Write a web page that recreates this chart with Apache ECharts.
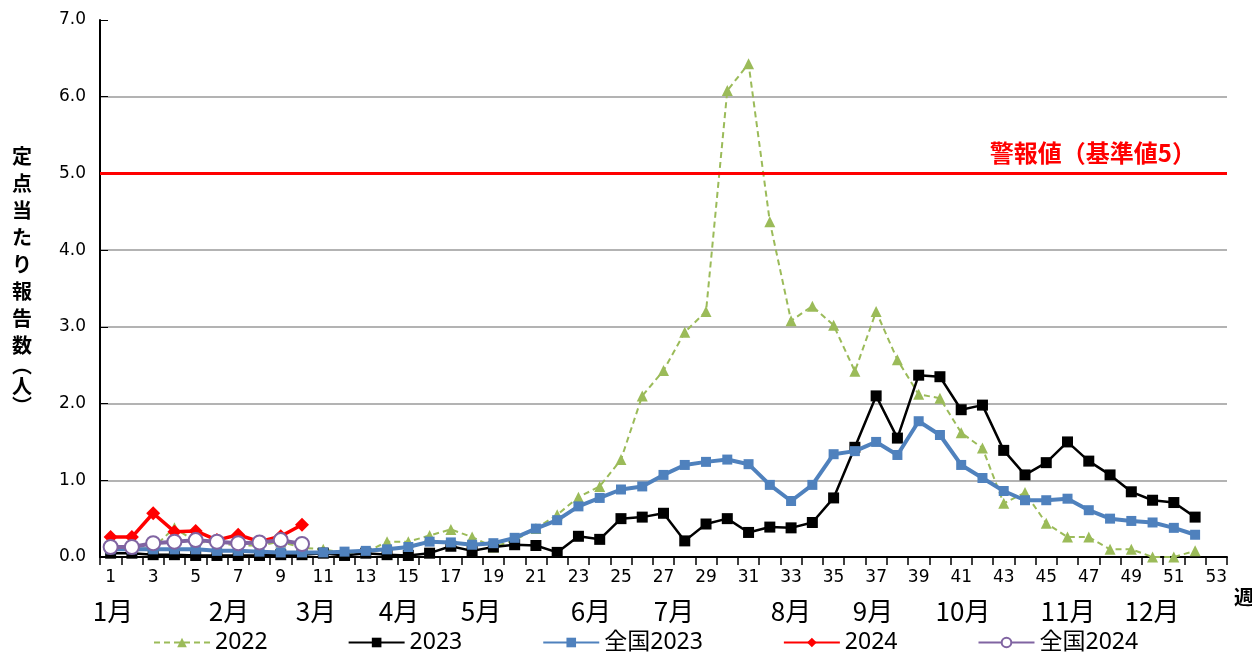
<!DOCTYPE html>
<html>
<head>
<meta charset="utf-8">
<script src="https://cdn.jsdelivr.net/npm/echarts@6/dist/echarts.min.js"></script>
<style>html,body{margin:0;padding:0;background:#fff;}#c{width:1252px;height:653px;}</style>
</head>
<body>
<div id="c"></div>
<script>
const weeks = ['1','2','3','4','5','6','7','8','9','10','11','12','13','14','15','16','17','18','19','20','21','22','23','24','25','26','27','28','29','30','31','32','33','34','35','36','37','38','39','40','41','42','43','44','45','46','47','48','49','50','51','52','53'];
const y2022 = [0.10,0.10,0.12,0.38,0.20,0.18,0.15,0.15,0.20,0.12,0.10,0.05,0.06,0.20,0.20,0.28,0.36,0.26,0.13,0.22,0.37,0.55,0.78,0.92,1.27,2.10,2.43,2.93,3.20,6.08,6.43,4.37,3.08,3.27,3.02,2.42,3.20,2.57,2.12,2.07,1.62,1.42,0.70,0.84,0.44,0.26,0.26,0.10,0.10,0.00,0.00,0.08];
const y2023 = [0.05,0.05,0.03,0.03,0.02,0.02,0.02,0.02,0.03,0.03,0.05,0.02,0.05,0.03,0.02,0.05,0.14,0.08,0.13,0.16,0.15,0.06,0.27,0.23,0.50,0.52,0.57,0.21,0.43,0.50,0.32,0.39,0.38,0.45,0.77,1.43,2.10,1.55,2.37,2.35,1.92,1.98,1.39,1.07,1.23,1.50,1.25,1.07,0.85,0.74,0.71,0.52];
const national2023 = [0.10,0.10,0.10,0.10,0.10,0.08,0.08,0.07,0.06,0.06,0.06,0.07,0.08,0.10,0.13,0.20,0.19,0.16,0.18,0.25,0.37,0.48,0.66,0.77,0.88,0.92,1.07,1.20,1.24,1.27,1.21,0.94,0.73,0.94,1.34,1.38,1.50,1.33,1.77,1.59,1.20,1.03,0.86,0.74,0.74,0.76,0.61,0.50,0.47,0.45,0.38,0.29];
const y2024 = [0.26,0.26,0.57,0.33,0.34,0.22,0.29,0.20,0.27,0.42];
const national2024 = [0.13,0.13,0.18,0.20,0.22,0.20,0.18,0.19,0.22,0.17];
const months = ['1月','2月','3月','4月','5月','6月','7月','8月','9月','10月','11月','12月'];
const monthX = [113,229,316,399,481,591,674,791,873,963,1068,1152];
const alertValue = 5;
const alertLabel = '警報値（基準値5）';
const yName = '定\n点\n当\nた\nり\n報\n告\n数\n{p|︵}\n人\n{p|︶}';

const chart = echarts.init(document.getElementById('c'));
const cjk = '"Noto Sans CJK JP", sans-serif';
const graphics = months.map((m, i) => ({
  type: 'text', x: monthX[i], y: 611,
  style: {text: m, font: '26px "Liberation Sans Narrow", "Noto Sans CJK JP", sans-serif', fill: '#000', align: 'center', verticalAlign: 'middle'}
}));
graphics.push({
  type: 'text', x: 22, y: 278,
  style: {text: yName, font: 'bold 20px ' + cjk, fill: '#000', align: 'center', verticalAlign: 'middle', lineHeight: 27,
    rich: {p: {lineHeight: 14, fontSize: 20, fontWeight: 'bold', fontFamily: '"Noto Sans CJK JP"'}}}
});
graphics.push({
  type: 'text', x: 1234, y: 597,
  style: {text: '週', font: 'bold 20px ' + cjk, fill: '#000', align: 'left', verticalAlign: 'middle'}
});

chart.setOption({
  animation: false,
  backgroundColor: '#fff',
  grid: {left: 100, right: 25, top: 20, bottom: 96, containLabel: false},
  legend: {
    top: 626, left: 148, itemGap: 80, itemWidth: 56, itemHeight: 12,
    textStyle: {fontSize: 23, fontFamily: '"Noto Sans", "Noto Sans CJK JP", sans-serif', color: '#000'},
    data: ['2022','2023','全国2023','2024','全国2024']
  },
  xAxis: {
    type: 'category', data: weeks, boundaryGap: true,
    axisLine: {lineStyle: {color: '#000', width: 2}},
    axisTick: {show: true, inside: false, length: 8, lineStyle: {color: '#000', width: 1.5}, interval: 0},
    axisLabel: {interval: 1, fontSize: 17, color: '#000', margin: 12, fontFamily: '"DejaVu Sans", sans-serif'},
    splitLine: {show: false}
  },
  yAxis: {
    type: 'value', min: 0, max: 7, interval: 1,
    axisLine: {show: true, lineStyle: {color: '#000', width: 2}},
    axisTick: {show: true, inside: true, length: 8, lineStyle: {color: '#000', width: 1}},
    axisLabel: {fontSize: 17, color: '#000', margin: 14, fontFamily: '"DejaVu Sans", sans-serif', formatter: v => v.toFixed(1)},
    splitLine: {show: true, showMaxLine: false, lineStyle: {color: '#9a9a9a', width: 1.5}}
  },
  graphic: graphics,
  series: [
    {name: '2022', type: 'line', data: y2022, symbol: 'triangle', symbolSize: 11,
      lineStyle: {color: '#9BBB59', width: 2, type: [6, 4]}, itemStyle: {color: '#9BBB59'}, z: 2},
    {name: '2023', type: 'line', data: y2023, symbol: 'rect', symbolSize: 11,
      lineStyle: {color: '#000', width: 2.5}, itemStyle: {color: '#000'}, z: 3,
      markLine: {silent: true, symbol: 'none', data: [{yAxis: alertValue}],
        lineStyle: {color: '#FF0000', width: 3, type: 'solid'},
        label: {show: true, position: 'insideEndTop', formatter: alertLabel, color: '#FF0000', fontSize: 24, fontWeight: 'bold',
          fontFamily: cjk, padding: [0, 26, 4, 0]}}},
    {name: '全国2023', type: 'line', data: national2023, symbol: 'rect', symbolSize: 10,
      lineStyle: {color: '#4F81BD', width: 4}, itemStyle: {color: '#4F81BD'}, z: 4},
    {name: '2024', type: 'line', data: y2024, symbol: 'diamond', symbolSize: 14,
      lineStyle: {color: '#FF0000', width: 3.5}, itemStyle: {color: '#FF0000'}, z: 5},
    {name: '全国2024', type: 'line', data: national2024, symbol: 'emptyCircle', symbolSize: 14,
      lineStyle: {color: '#8064A2', width: 4}, itemStyle: {color: '#8064A2', borderWidth: 2}, z: 6}
  ]
});
</script>
</body>
</html>
